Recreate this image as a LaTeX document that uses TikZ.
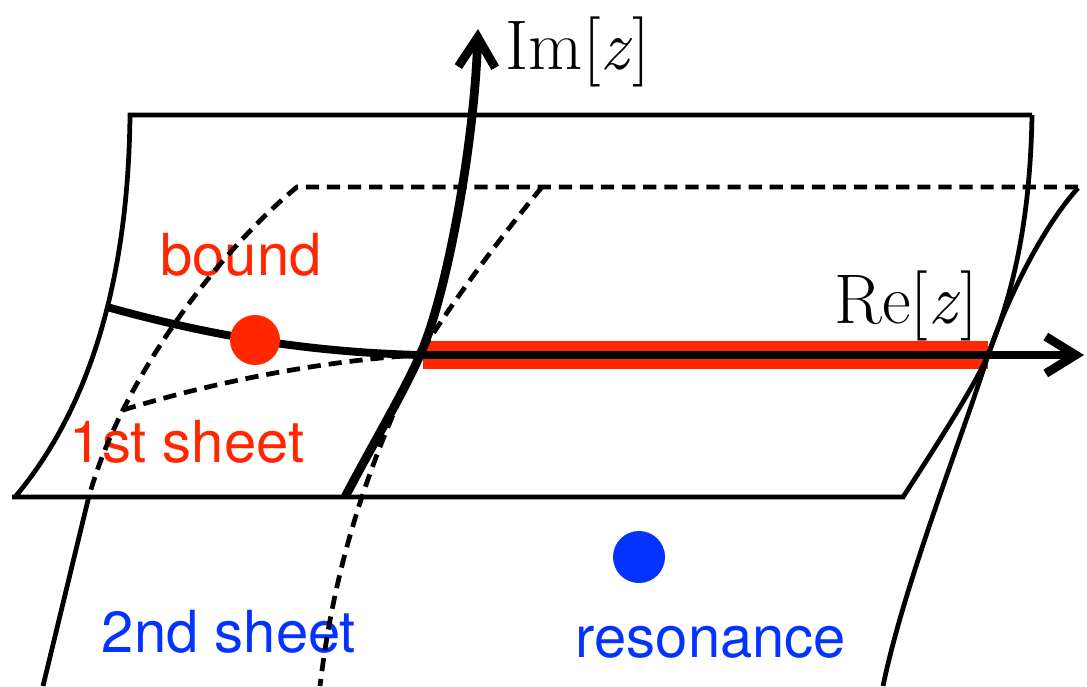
\documentclass[tikz,border=0pt]{standalone}
\usepackage{fontspec}
\setsansfont{TeX Gyre Heros}
\usepackage{tikz}
\usetikzlibrary{arrows.meta}
\definecolor{boundred}{HTML}{FF2600}
\definecolor{resblue}{HTML}{0433FF}
\tikzset{
  sheet/.style={line width=2.7pt},
  hidden/.style={sheet, dash pattern=on 7.5pt off 4.5pt},
  axis/.style={line width=5pt, -{Straight Barb[length=17pt, width=21pt]}},
  cutline/.style={line width=15.5pt, color=boundred},
  pole/.style={circle, inner sep=0pt, minimum size=1cm},
  sheetlbl/.style={font=\fontsize{33}{36}\selectfont\sffamily, inner sep=0pt, anchor=base},
  axislbl/.style={font=\fontsize{40}{44}\selectfont\rmfamily, inner sep=0pt, anchor=base}
}

\begin{document}
\begin{tikzpicture}[x=0.02cm, y=-0.02cm]
  \useasboundingbox (0,0) rectangle (1087,686);
  \coordinate (O) at (420,355);
  \coordinate (cut) at (988,355);
  % labels
  \node[sheetlbl, boundred] (boundlbl) at (241,275) {bound};
  \node[sheetlbl, boundred] (firstlbl) at (187,462) {1st sheet};
  \node[sheetlbl, resblue] (secondlbl) at (229,652) {2nd sheet};
  \node[sheetlbl, resblue] (reslbl) at (711,657) {resonance};
  \node[axislbl] (imlbl) at (578,70) {Im[\textit{z}]};
  \node[axislbl] (relbl) at (906,323) {Re[\textit{z}]};
  % cut
  \draw[cutline] (423,355) -- (cut);
  % 1st sheet
  \draw[sheet] (1032,115) -- (130,115) .. controls (128,300) and (80,420) .. (15,497) -- (12,497) -- (905,497);
  \draw[sheet] (903,497) .. controls (940,440) and (975,385) .. (cut)
    .. controls (1005,305) and (1040,230) .. (1078,188);
  % 2nd sheet
  \draw[hidden] (1078,187) -- (297,187) .. controls (220,250) and (120,380) .. (88,500);
  \draw[sheet] (88,500) -- (43,686);
  \draw[sheet] (1032,115) .. controls (1030,230) and (1010,300) .. (cut)
    .. controls (965,430) and (905,580) .. (883,686);
  \draw[hidden] (542,187) .. controls (490,250) and (440,320) .. (O)
    .. controls (370,460) and (335,560) .. (320,686);
  \draw[hidden] (123,410) .. controls (220,380) and (330,360) .. (O);
  % axes
  \draw[axis] (345,497) .. controls (375,440) and (405,390) .. (O)
    .. controls (445,300) and (474,150) .. (478,29);
  \draw[axis] (O) -- (1084,355);
  % bound state line
  \draw[line width=4.5pt] (107,307) .. controls (200,333) and (300,352) .. (O);
  % poles
  \node[pole, fill=boundred] (bounddot) at (255,340) {};
  \node[pole, fill=resblue, minimum size=1.04cm] (resdot) at (639,557) {};
\end{tikzpicture}
\end{document}
